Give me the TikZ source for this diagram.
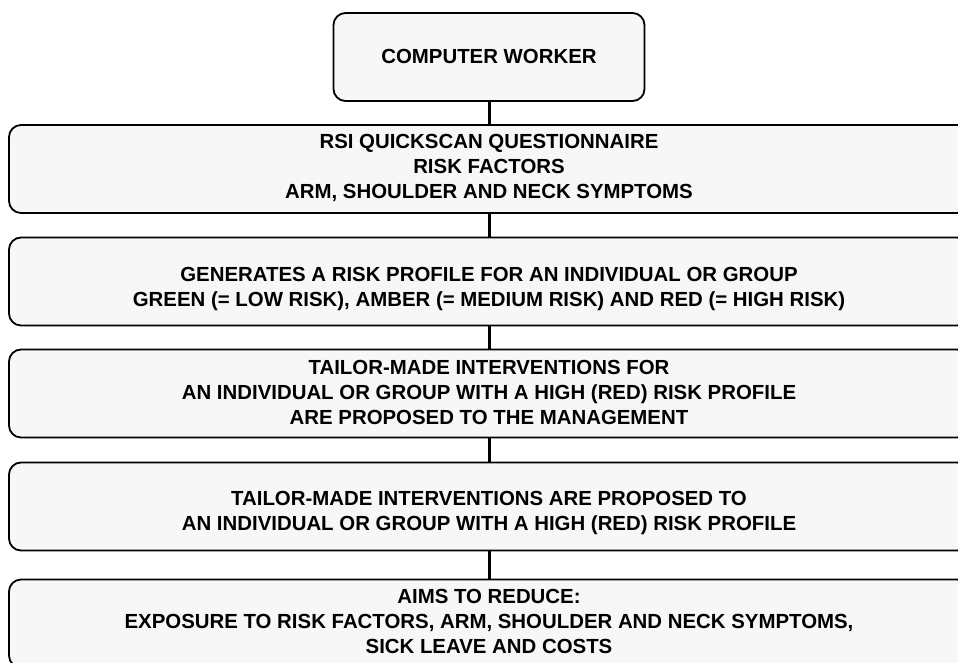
\documentclass[tikz,border=0pt]{standalone}
\usepackage{fontspec}
\setmainfont{Liberation Sans}
\begin{document}
\begin{tikzpicture}[x=1pt,y=-1pt,
  box/.style={draw=black, line width=1.8pt, fill=black!3, rounded corners=12pt, inner sep=0pt},
  wide/.style={box, minimum width=960pt, minimum height=88pt},
  txt/.style={align=center, inner sep=0pt, font=\bfseries\fontsize{20.4}{24.8}\selectfont},
  conn/.style={draw=black, line width=3pt}]
\useasboundingbox (0,0) rectangle (958,662);
\clip (0,0) rectangle (958,662);
\fill[white] (0,0) rectangle (958,662);
\node[box, minimum width=311pt, minimum height=88pt] (b1) at (489,57) {};
\node[wide] (b2) at (489,169) {};
\node[wide] (b3) at (489,281.5) {};
\node[wide] (b4) at (489,393.5) {};
\node[wide] (b5) at (489,506.5) {};
\node[wide] (b6) at (489,623.5) {};
\node[txt] (t1) at (489,56) {COMPUTER WORKER};
\node[txt] (t2) at (489,168) {RSI QUICKSCAN QUESTIONNAIRE\\RISK FACTORS\\ARM, SHOULDER AND NECK SYMPTOMS};
\node[txt] (t3) at (489,289) {GENERATES A RISK PROFILE FOR AN INDIVIDUAL OR GROUP\\GREEN (= LOW RISK), AMBER (= MEDIUM RISK) AND RED (= HIGH RISK)};
\node[txt] (t4) at (489,392.5) {TAILOR-MADE INTERVENTIONS FOR\\AN INDIVIDUAL OR GROUP WITH A HIGH (RED) RISK PROFILE\\ARE PROPOSED TO THE MANAGEMENT};
\node[txt] (t5) at (489,513) {TAILOR-MADE INTERVENTIONS ARE PROPOSED TO\\AN INDIVIDUAL OR GROUP WITH A HIGH (RED) RISK PROFILE};
\node[txt] (t6) at (489,621.5) {AIMS TO REDUCE:\\EXPOSURE TO RISK FACTORS, ARM, SHOULDER AND NECK SYMPTOMS,\\SICK LEAVE AND COSTS};
\draw[conn] (b1.south) -- (b2.north);
\draw[conn] (b2.south) -- (b3.north);
\draw[conn] (b3.south) -- (b4.north);
\draw[conn] (b4.south) -- (b5.north);
\draw[conn] (b5.south) -- (b6.north);
\end{tikzpicture}
\end{document}
